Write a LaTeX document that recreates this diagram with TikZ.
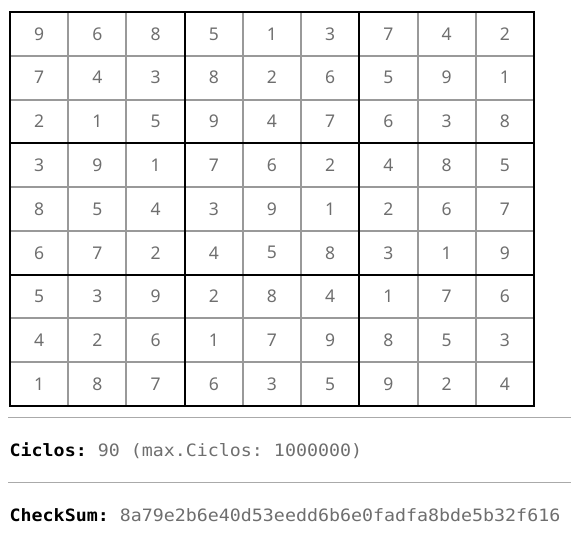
\documentclass[tikz,border=0pt]{standalone}
\usepackage{fontspec}
\newfontfamily\cellfont{Noto Sans}
\newfontfamily\monofont[FakeStretch=1.076]{DejaVu Sans Mono}
\definecolor{thingray}{HTML}{999999}
\definecolor{digitgray}{HTML}{6E6E6E}
\definecolor{sepgray}{HTML}{AAAAAA}
\begin{document}
\begin{tikzpicture}[x=1pt,y=-1pt,
  thinline/.style={draw=thingray,line width=2pt},
  thickline/.style={draw=black,line width=2pt},
  sepline/.style={draw=sepgray,line width=1pt},
  digit/.style={inner sep=0pt,text=digitgray,font=\cellfont\fontsize{17.5}{19}\selectfont},
  lbl/.style={inner sep=0pt,anchor=base west,font=\monofont\fontsize{17}{19}\selectfont\frenchspacing}]
\useasboundingbox (0,0) rectangle (571,540);
\def\gx{10}\def\gy{12}\def\cw{58.2222}\def\ch{43.7778}
% thin lines
\foreach \i in {1,2,4,5,7,8}{
  \draw[thinline] ({\gx+\i*\cw},\gy) -- ({\gx+\i*\cw},{\gy+9*\ch});
  \draw[thinline] (\gx,{\gy+\i*\ch}) -- ({\gx+9*\cw},{\gy+\i*\ch});
}
% thick lines
\foreach \i in {3,6}{
  \draw[thickline] ({\gx+\i*\cw},\gy) -- ({\gx+\i*\cw},{\gy+9*\ch});
  \draw[thickline] (\gx,{\gy+\i*\ch}) -- ({\gx+9*\cw},{\gy+\i*\ch});
}
\draw[thickline] (\gx,\gy) rectangle ({\gx+9*\cw},{\gy+9*\ch});
% digits
\foreach \row [count=\r from 0] in {
  {9,6,8,5,1,3,7,4,2},
  {7,4,3,8,2,6,5,9,1},
  {2,1,5,9,4,7,6,3,8},
  {3,9,1,7,6,2,4,8,5},
  {8,5,4,3,9,1,2,6,7},
  {6,7,2,4,5,8,3,1,9},
  {5,3,9,2,8,4,1,7,6},
  {4,2,6,1,7,9,8,5,3},
  {1,8,7,6,3,5,9,2,4}}{
  \foreach \d [count=\c from 0] in \row {
    \node[digit] (cell-\r-\c) at ({\gx+(\c+0.5)*\cw},{\gy+(\r+0.5)*\ch}) {\d};
  }
}
% separators
\coordinate (s1a) at (8,417.7); \coordinate (s1b) at (571,417.7);
\coordinate (s2a) at (8,482.7); \coordinate (s2b) at (571,482.7);
\draw[sepline] (s1a) -- (s1b);
\draw[sepline] (s2a) -- (s2b);
% texts
\node[lbl] (ciclos) at (9.5,456.7) {\textbf{Ciclos:} \textcolor{digitgray}{90 (max.Ciclos: 1000000)}};
\node[lbl] (checksum) at (9.5,521.7) {\textbf{CheckSum:} \textcolor{digitgray}{8a79e2b6e40d53eedd6b6e0fadfa8bde5b32f616}};
\end{tikzpicture}
\end{document}
